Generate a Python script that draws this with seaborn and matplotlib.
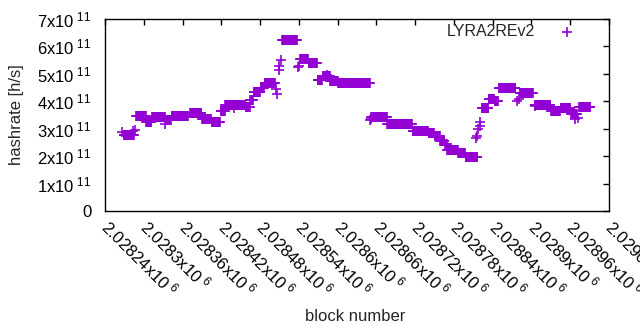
"""
LYRA2REv2 hashrate per block, gnuplot-style scatter of '+' markers.
"""

import matplotlib
matplotlib.use("Agg")
import matplotlib.pyplot as plt
import matplotlib.ticker as mticker
import numpy as np
import pandas as pd
import seaborn as sns

# plateaus: first block, last block, hashrate (x1e11 h/s)
SEG_START = [2028269, 2028288, 2028304, 2028313, 2028334, 2028343, 2028372,
             2028390, 2028405, 2028419, 2028426, 2028458, 2028465, 2028470,
             2028481, 2028487, 2028514, 2028542, 2028555, 2028569, 2028577,
             2028589, 2028601, 2028652, 2028677, 2028716, 2028741, 2028750,
             2028759, 2028766, 2028770, 2028787, 2028798, 2028823, 2028834,
             2028843, 2028849, 2028882, 2028905, 2028930, 2028945, 2028961,
             2028974]
SEG_END = [2028285, 2028303, 2028312, 2028333, 2028342, 2028368, 2028389,
           2028404, 2028418, 2028425, 2028457, 2028464, 2028469, 2028480,
           2028486, 2028503, 2028537, 2028554, 2028568, 2028576, 2028588,
           2028600, 2028650, 2028676, 2028715, 2028740, 2028749, 2028758,
           2028765, 2028769, 2028786, 2028797, 2028816, 2028833, 2028842,
           2028848, 2028875, 2028902, 2028929, 2028944, 2028960, 2028970,
           2028991]
SEG_RATE = [2.77, 3.48, 3.23, 3.41, 3.30, 3.46, 3.59,
            3.37, 3.26, 3.65, 3.86, 3.78, 4.05, 4.34,
            4.50, 4.65, 6.25, 5.56, 5.38, 4.79, 4.92,
            4.75, 4.65, 3.43, 3.19, 2.93, 2.85, 2.72,
            2.55, 2.45, 2.22, 2.10, 1.97, 3.75, 4.10,
            4.00, 4.50, 4.32, 3.88, 3.63, 3.74, 3.55,
            3.81]

# single outlying samples between plateaus
ODD_BLOCK = [2028266, 2028284, 2028287, 2028333, 2028440, 2028505, 2028506,
             2028509, 2028510, 2028512, 2028538, 2028540, 2028583, 2028650,
             2028652, 2028814, 2028815, 2028818, 2028820, 2028821, 2028878,
             2028880, 2028905, 2028967, 2028972]
ODD_RATE = [2.87, 2.90, 2.95, 3.17, 3.75, 4.45, 4.27,
            5.15, 5.30, 5.50, 5.25, 5.30, 4.97, 3.30,
            3.35, 2.65, 2.75, 3.00, 3.10, 3.25, 4.00,
            4.10, 3.82, 3.35, 3.40]

X_MIN, X_MAX = 2028240, 2029020
COLOR = "#9400d3"
FS = 12


def build_frame() -> pd.DataFrame:
    blocks, rates = [], []
    for a, b, r in zip(SEG_START, SEG_END, SEG_RATE):
        for blk in range(a, b + 1):
            blocks.append(blk)
            rates.append(r * 1e11)
    blocks += ODD_BLOCK
    rates += [r * 1e11 for r in ODD_RATE]
    return pd.DataFrame({"block": blocks, "hashrate": rates})


def sci_label(v, exp):
    if v == 0:
        return "0"
    return f"{v / 10 ** exp:g}x10$^{{\\ {exp}}}$"


def main() -> None:
    sns.set_theme(style="white")
    plt.rcParams["font.family"] = ["Liberation Sans", "DejaVu Sans"]
    plt.rcParams["mathtext.fontset"] = "custom"
    plt.rcParams["mathtext.rm"] = "Liberation Sans"
    plt.rcParams["mathtext.default"] = "regular"

    df = build_frame()

    fig = plt.figure(figsize=(6.4, 3.3), dpi=100)
    ax = fig.add_axes([0.164, 0.3606, 0.7876, 0.5818])

    sns.scatterplot(data=df, x="block", y="hashrate", marker="+", color=COLOR,
                    s=42, linewidth=1.2, label="LYRA2REv2", ax=ax)

    ax.set_xlim(X_MIN, X_MAX)
    ax.set_ylim(0, 7e11)
    ax.set_xticks(np.arange(X_MIN, X_MAX + 1, 60))
    ax.set_yticks(np.arange(0, 7.01e11, 1e11))
    ax.xaxis.set_major_formatter(mticker.FuncFormatter(lambda v, p: sci_label(v, 6)))
    ax.yaxis.set_major_formatter(mticker.FuncFormatter(lambda v, p: sci_label(v, 11)))

    ax.tick_params(direction="in", length=4, width=1, top=True, right=True,
                   labelsize=FS, colors="black")
    ax.tick_params(axis="y", pad=9.5)
    ax.tick_params(axis="x", pad=9)
    for lab in ax.get_xticklabels():
        lab.set_rotation(-45)
        lab.set_ha("left")
        lab.set_va("center")
        lab.set_rotation_mode("anchor")

    for sp in ax.spines.values():
        sp.set_color("black")
        sp.set_linewidth(1)

    ax.set_xlabel("block number", fontsize=FS)
    ax.set_ylabel("hashrate [h/s]", fontsize=FS)
    ax.xaxis.set_label_coords(0.496, -0.51)
    ax.yaxis.set_label_coords(-0.16, 0.5)

    ax.legend(loc="upper right", bbox_to_anchor=(0.97, 1.03), frameon=False,
              markerfirst=False, fontsize=11.5, handletextpad=1.0,
              borderaxespad=0.3)

    fig.savefig("out.png", dpi=100)
    plt.close(fig)


if __name__ == "__main__":
    main()
